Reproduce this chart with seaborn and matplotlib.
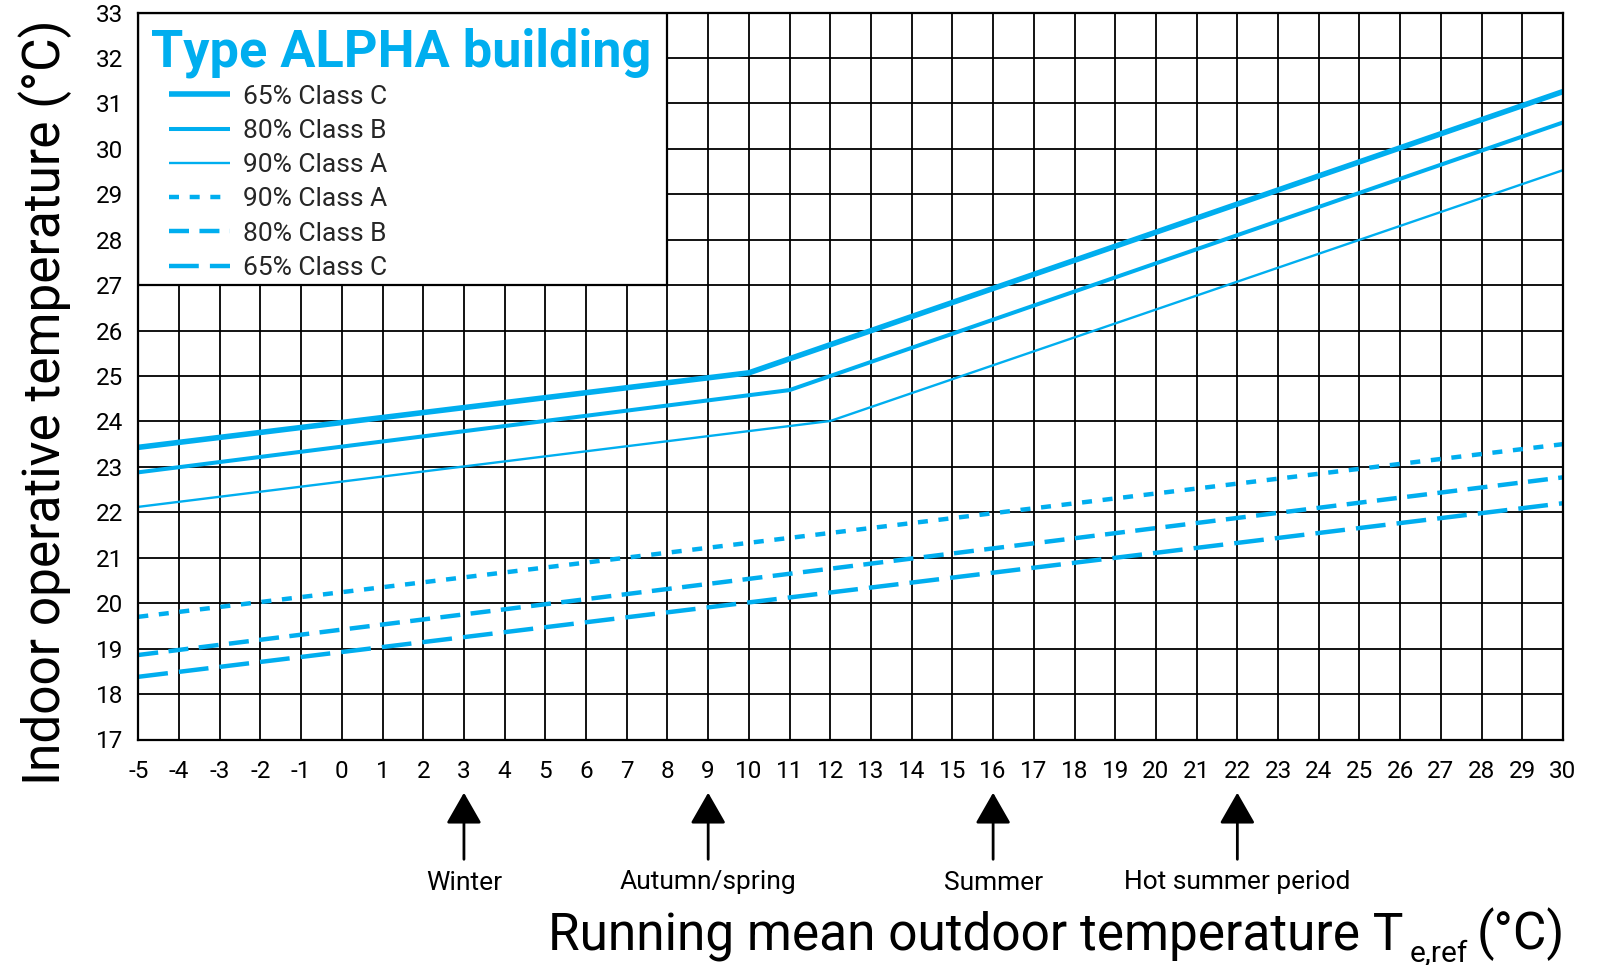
import matplotlib
matplotlib.use("Agg")
import matplotlib.pyplot as plt
from matplotlib.lines import Line2D
from matplotlib.patches import Rectangle
import numpy as np
import pandas as pd
import seaborn as sns

# Comfort limits for a type ALPHA building (indoor operative temperature, degC)
# against the running mean outdoor temperature (degC).
upper_65_x = [-5, 10, 30]
upper_65_y = [23.43, 25.07, 31.26]
upper_80_x = [-5, 11, 30]
upper_80_y = [22.88, 24.69, 30.58]
upper_90_x = [-5, 12, 30]
upper_90_y = [22.12, 24.01, 29.53]
lower_90_x = [-5, 30]
lower_90_y = [19.70, 23.50]
lower_80_x = [-5, 30]
lower_80_y = [18.86, 22.77]
lower_65_x = [-5, 30]
lower_65_y = [18.38, 22.20]

series_names = ["upper 65%", "upper 80%", "upper 90%",
                "lower 90%", "lower 80%", "lower 65%"]
legend_labels = ["65% Class C", "80% Class B", "90% Class A",
                 "90% Class A", "80% Class B", "65% Class C"]

season_x = [3, 9, 16, 22]
season_labels = ["Winter", "Autumn/spring", "Summer", "Hot summer period"]

x_ticks = list(range(-5, 31))
y_ticks = list(range(17, 34))

BLUE = "#00AEEF"

sns.set_theme(style="white")
plt.rcParams["font.family"] = ["Roboto", "DejaVu Sans"]

xs = [upper_65_x, upper_80_x, upper_90_x, lower_90_x, lower_80_x, lower_65_x]
ys = [upper_65_y, upper_80_y, upper_90_y, lower_90_y, lower_80_y, lower_65_y]
frames = []
for name, xv, yv in zip(series_names, xs, ys):
    frames.append(pd.DataFrame({"t_ref": xv, "t_op": yv, "series": name}))
df = pd.concat(frames, ignore_index=True)

widths = {"upper 65%": 4.0, "upper 80%": 2.9, "upper 90%": 1.7,
          "lower 90%": 3.2, "lower 80%": 3.2, "lower 65%": 3.2}
dash_map = {"upper 65%": "", "upper 80%": "", "upper 90%": "",
            "lower 90%": (2.25, 2.4), "lower 80%": (4.5, 2.35),
            "lower 65%": (6.7, 2.5)}

W, H = 1602, 965
fig = plt.figure(figsize=(W / 100, H / 100), dpi=100)
ax_l, ax_r, ax_t, ax_b = 138.3, 1563.0, 12.5, 739.5
ax = fig.add_axes([ax_l / W, 1 - ax_b / H, (ax_r - ax_l) / W, (ax_b - ax_t) / H])

sns.lineplot(data=df, x="t_ref", y="t_op", hue="series", style="series",
             size="series", palette={s: BLUE for s in series_names},
             sizes=widths, dashes=dash_map, hue_order=series_names,
             style_order=series_names, size_order=series_names,
             estimator=None, sort=False, legend=False, ax=ax, zorder=3)

ax.set_xlim(-5, 30)
ax.set_ylim(17, 33)
ax.set_xticks(x_ticks)
ax.set_yticks(y_ticks)
ax.set_xticklabels([str(v) for v in x_ticks])
ax.set_yticklabels([str(v) for v in y_ticks])
ax.tick_params(axis="both", length=0, labelsize=17.5, colors="black")
ax.tick_params(axis="y", pad=11)
ax.tick_params(axis="x", pad=15)
ax.set_xlabel("")
ax.set_ylabel("")
ax.set_axisbelow(True)
ax.grid(True, color="black", lw=1.3)
for sp in ax.spines.values():
    sp.set_color("black")
    sp.set_linewidth(1.6)
    sp.set_zorder(6)

# white panel holding the legend
ax.add_patch(Rectangle((-5, 27), 13, 6, facecolor="white", edgecolor="black",
                       lw=1.6, zorder=4))

handles = []
for name in series_names:
    d = dash_map[name]
    h = Line2D([0], [0], color=BLUE, lw=widths[name], solid_capstyle="butt")
    if d:
        h.set_dashes(d)
    handles.append(h)

leg = ax.legend(handles, legend_labels, loc="upper left",
                bbox_to_anchor=(168.6 / W, 1 - 84.5 / H),
                bbox_transform=fig.transFigure, frameon=False,
                fontsize=19, handlelength=2.32, handletextpad=0.49,
                labelspacing=0.39, borderpad=0, borderaxespad=0)
leg.set_zorder(7)

fig.text(151 / W, 1 - 66.4 / H, "Type ALPHA building", color=BLUE,
         fontsize=37.6, fontweight="bold", ha="left", va="baseline", zorder=8)

# season markers below the axis
xt = ax.get_xaxis_transform()
tip = (ax_b - 792.7) / (ax_b - ax_t)
tail = (ax_b - 859.3) / (ax_b - ax_t)
lab = (ax_b - 889.5) / (ax_b - ax_t)
for sx, sl in zip(season_x, season_labels):
    ax.annotate("", xy=(sx, tip), xytext=(sx, tail), xycoords=xt,
                textcoords=xt, annotation_clip=False,
                arrowprops=dict(arrowstyle="-|>,head_length=0.96,head_width=0.55",
                                mutation_scale=20, lw=2, color="black",
                                shrinkA=0, shrinkB=0))
    ax.text(sx, lab, sl, transform=xt, ha="center", va="baseline",
            fontsize=19, color="black", clip_on=False)

# x-axis title assembled from main text, subscript and unit
renderer = fig.canvas.get_renderer()
base_y = 1 - 949.3 / H
unit = fig.text(1565 / W, base_y, "(°C)", fontsize=37, ha="right",
                va="baseline", color="black")
ub = unit.get_window_extent(renderer)
sub = fig.text((ub.x0 - 9) / W, 1 - 962 / H, "e,ref", fontsize=21.5,
               ha="right", va="baseline", color="black")
sb = sub.get_window_extent(renderer)
fig.text((sb.x0 - 6) / W, base_y, "Running mean outdoor temperature T",
         fontsize=37, ha="right", va="baseline", color="black")

fig.text(45 / W, 1 - 402 / H, "Indoor operative temperature (°C)",
         fontsize=37, rotation=90, ha="center", va="center", color="black")

fig.savefig("out.png", dpi=100)
